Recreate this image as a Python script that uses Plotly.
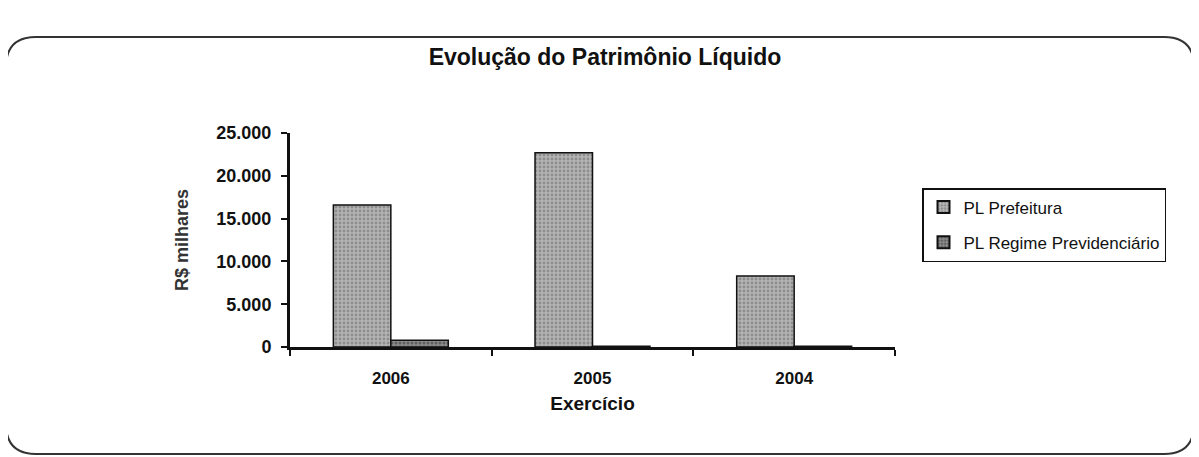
import plotly.graph_objects as go

categories = ["2006", "2005", "2004"]
pl_prefeitura = [16600, 22700, 8300]
pl_regime = [800, 100, 100]
y_tick_vals = [0, 5000, 10000, 15000, 20000, 25000]
y_tick_text = ["0", "5.000", "10.000", "15.000", "20.000", "25.000"]

FONT = "Liberation Sans, Arial, sans-serif"
OFF = 8  # page body margin

fig = go.Figure()
fig.add_trace(go.Bar(
    x=categories, y=pl_prefeitura, name="PL Prefeitura", legendgroup="a",
    marker=dict(color="#b4b4b4", line=dict(color="#111111", width=1.5),
                pattern=dict(shape=".", fgcolor="#666666", size=4, solidity=0.4)),
))
fig.add_trace(go.Bar(
    x=categories, y=pl_regime, name="PL Regime Previdenciário", legendgroup="b",
    marker=dict(color="#8c8c8c", line=dict(color="#111111", width=1.5),
                pattern=dict(shape=".", fgcolor="#333333", size=4, solidity=0.45)),
))

W, H = 1199 - OFF, 457 - OFF
# plot area in screenshot pixels
PX0, PX1, PY0, PY1 = 290, 895, 133, 347
L, R, T, B = PX0 - OFF, W - (PX1 - OFF), PY0 - OFF, H - (PY1 - OFF)
pw, ph = PX1 - PX0, PY1 - PY0

def px(x):
    return (x - PX0) / pw

def py(y):
    return (PY1 - y) / ph

# rounded frame in paper coordinates
x0, x1, y0, y1, r = 6, 1194, 37, 454, 30
path = (
    f"M {px(x0)},{py(y0 + r)} "
    f"Q {px(x0)},{py(y0)} {px(x0 + r)},{py(y0)} "
    f"L {px(x1 - r)},{py(y0)} "
    f"Q {px(x1)},{py(y0)} {px(x1)},{py(y0 + r)} "
    f"L {px(x1)},{py(y1 - r)} "
    f"Q {px(x1)},{py(y1)} {px(x1 - r)},{py(y1)} "
    f"L {px(x0 + r)},{py(y1)} "
    f"Q {px(x0)},{py(y1)} {px(x0)},{py(y1 - r)} Z"
)

fig.update_layout(
    width=W, height=H,
    margin=dict(l=L, r=R, t=T, b=B),
    paper_bgcolor="white", plot_bgcolor="white",
    barmode="group", bargap=0.43, bargroupgap=0,
    font=dict(family=FONT, color="#111111"),
    title=dict(text="<b>Evolução do Patrimônio Líquido</b>", xref="container",
               x=(605 - OFF) / W, xanchor="center",
               y=1 - (57 - OFF) / H, yanchor="middle", font=dict(size=23, color="#111111")),
    showlegend=True,
    legend=dict(x=px(922), y=py(188), xanchor="left", yanchor="top",
                bordercolor="#111111", borderwidth=1.5, bgcolor="white",
                font=dict(size=17, color="#111111"), tracegroupgap=10,
                traceorder="grouped", itemsizing="constant"),
    shapes=[dict(type="path", xref="paper", yref="paper", path=path,
                 line=dict(color="#333333", width=2), fillcolor="rgba(0,0,0,0)", layer="below")],
)

fig.update_xaxes(
    type="category", showline=True, linecolor="#111111", linewidth=3,
    ticks="outside", tickson="boundaries", ticklen=6, tickwidth=2, tickcolor="#111111",
    tickfont=dict(size=17, family=FONT, color="#111111"),
    tickprefix="<b>", ticksuffix="</b>", ticklabelstandoff=14,
    title=dict(text="<b>Exercício</b>", font=dict(size=19, color="#111111"), standoff=10),
    showgrid=False, zeroline=False,
)
fig.update_yaxes(
    range=[0, 25000], tickvals=y_tick_vals, ticktext=[f"<b>{t}</b>" for t in y_tick_text],
    showline=True, linecolor="#111111", linewidth=3,
    ticks="outside", ticklen=6, tickwidth=2, tickcolor="#111111",
    tickfont=dict(size=18, family=FONT, color="#111111"), ticklabelstandoff=6,
    title=dict(text="<b>R$ milhares</b>", font=dict(size=18, color="#333333"), standoff=24),
    showgrid=False, zeroline=False,
)

fig.write_html("out.html")
